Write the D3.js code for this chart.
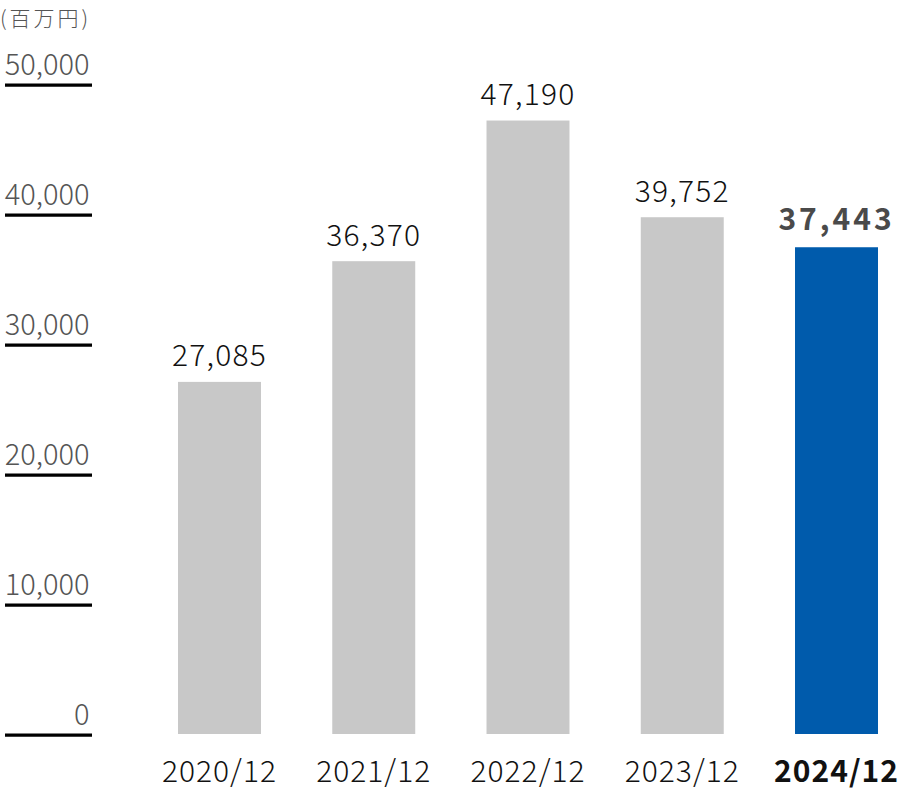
<!DOCTYPE html>
<html><head><meta charset="utf-8">
<script src="https://cdn.jsdelivr.net/npm/d3@7"></script>
<style>html,body{margin:0;padding:0;background:#fff;}svg{display:block;font-family:"Noto Sans CJK JP","Noto Sans",sans-serif;}</style>
</head><body>
<script>
const categories = ["2020/12","2021/12","2022/12","2023/12","2024/12"];
const values = [27085, 36370, 47190, 39752, 37443];
const yTicks = [0, 10000, 20000, 30000, 40000, 50000];
const unitLabel = "(百万円)";

const W = 900, H = 792;
const svg = d3.select("body").append("svg").attr("width", W).attr("height", H);

const y = d3.scaleLinear().domain([0, 50000]).range([734, 84]);
const x = d3.scaleBand().domain(categories).range([178, 878]).paddingInner(0.462).paddingOuter(0);

const fmt = d3.format(",");
const yg = svg.append("g");
yg.selectAll("line").data(yTicks).join("line")
  .attr("x1", 5).attr("x2", 92)
  .attr("y1", d => y(d) + 1.2).attr("y2", d => y(d) + 1.2)
  .attr("stroke", "#000").attr("stroke-width", 3.2);
yg.selectAll("text").data(yTicks).join("text")
  .attr("x", 89.5).attr("y", d => y(d) - 9.5)
  .attr("text-anchor", "end")
  .attr("font-size", 29).attr("font-weight", 300).attr("fill", "#555")
  .text(d => fmt(d));

svg.append("text").attr("x", 0).attr("y", 25.5).attr("font-size", 21).attr("font-weight", 300)
  .attr("letter-spacing", 3)
  .attr("fill", "#555").text(unitLabel);

const last = categories.length - 1;
svg.append("g").selectAll("rect").data(values).join("rect")
  .attr("x", (d, i) => x(categories[i]))
  .attr("width", x.bandwidth())
  .attr("y", d => y(d))
  .attr("height", d => y(0) - y(d))
  .attr("fill", (d, i) => i === last ? "#005bac" : "#c8c8c8");

svg.append("g").selectAll("text").data(values).join("text")
  .attr("x", (d, i) => x(categories[i]) + x.bandwidth() / 2)
  .attr("y", (d, i) => y(d) - (i === last ? 17 : 15.5))
  .attr("text-anchor", "middle")
  .attr("font-size", 30)
  .attr("letter-spacing", (d, i) => i === last ? 3 : 1.2)
  .attr("font-weight", (d, i) => i === last ? 700 : 300)
  .attr("fill", (d, i) => i === last ? "#4a4a4a" : "#111")
  .text(d => fmt(d));

svg.append("g").selectAll("text").data(categories).join("text")
  .attr("x", d => x(d) + x.bandwidth() / 2)
  .attr("y", 782)
  .attr("text-anchor", "middle")
  .attr("font-size", 30)
  .attr("letter-spacing", 1)
  .attr("font-weight", (d, i) => i === last ? 700 : 300)
  .attr("fill", "#111")
  .text(d => d);
</script>
</body></html>
